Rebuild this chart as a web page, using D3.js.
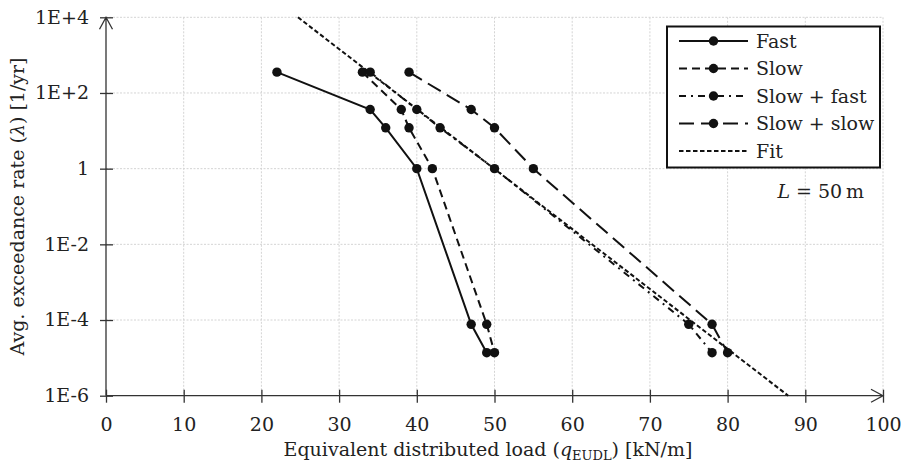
<!DOCTYPE html>
<html>
<head>
    <meta charset="utf-8">
    <title>exceedance rate vs equivalent load</title>
    <script src="https://d3js.org/d3.v7.min.js"></script>
</head>
<style>
    body {
        margin: 0;
        background: #fff;
    }
    
    svg text {
        font-family: "DejaVu Serif", serif;
        fill: #222;
    }
</style>
<body>
    <svg class='chart'></svg>
</body>

<script>
    // data (load in kN/m, rate in 1/yr)
    var rates = [355, 36.5, 12, 1, 7.7e-5, 1.37e-5];
    var qFast = [22, 34, 36, 40, 47, 49];
    var qSlow = [33, 38, 39, 42, 49, 50];
    var qSlowFast = [34, 40, 43, 50, 75, 78];
    var qSlowSlow = [39, 47, 50, 55, 78, 80];

    var fitQ = [24.7, 87.8];
    var fitRates = [1e4, 1e-6];

    var seriesNames = ["Fast", "Slow", "Slow + fast", "Slow + slow", "Fit"];
    var xTicks = [0, 10, 20, 30, 40, 50, 60, 70, 80, 90, 100];
    var yTicks = [1e4, 1e2, 1, 1e-2, 1e-4, 1e-6];
    var yTickLabels = ["1E+4", "1E+2", "1", "1E-2", "1E-4", "1E-6"];

    var dashes = ["none", "8,5", "7,5,2,5", "15,7", "4.5,2.5"];
    var fs = 19;

    //set up chart
    var margin = {
        top: 17.3,
        right: 24,
        bottom: 73.3,
        left: 106
    };
    var width = 777;
    var height = 378.4;

    var svg = d3.select(".chart")
        .attr("width", 907)
        .attr("height", 469);

    var chart = svg.append("g")
        .attr("transform", "translate(" + margin.left + "," + margin.top + ")");

    var x = d3.scaleLinear().domain([0, 100]).range([0, width]);
    var y = d3.scaleLog().domain([1e-6, 1e4]).range([height, 0]);

    // grid
    chart.append("g").selectAll("line")
        .data(xTicks.slice(1))
        .enter().append("line")
        .attr("x1", d => x(d)).attr("x2", d => x(d))
        .attr("y1", 0).attr("y2", height)
        .attr("stroke", "#d4d4d4").attr("stroke-dasharray", "2,1.5");
    chart.append("g").selectAll("line")
        .data(yTicks.slice(0, -1))
        .enter().append("line")
        .attr("x1", 0).attr("x2", width)
        .attr("y1", d => y(d)).attr("y2", d => y(d))
        .attr("stroke", "#d4d4d4").attr("stroke-dasharray", "2,1.5");

    //left axis
    var yAxis = d3.axisLeft(y).tickValues(yTicks)
        .tickFormat((d, i) => yTickLabels[i])
        .tickSize(6).tickPadding(11);
    var gy = chart.append("g").call(yAxis);
    //bottom axis
    var xAxis = d3.axisBottom(x).tickValues(xTicks).tickSize(6);
    var gx = chart.append("g")
        .attr("transform", "translate(0," + height + ")")
        .call(xAxis);

    [gx, gy].forEach(function(g) {
        g.select(".domain").remove();
        g.selectAll("text").attr("font-size", fs).attr("font-family", null).attr("fill", "#222");
        g.selectAll(".tick line").attr("stroke", "#333").attr("stroke-width", 1.3);
    });
    gy.selectAll(".tick line").attr("x1", -6).attr("x2", 7);
    gy.selectAll("text").attr("dy", "0.3em");
    gx.selectAll(".tick line").attr("y1", -6).attr("y2", 7);
    gx.selectAll("text").attr("y", 29).attr("dy", "0.35em");

    // axis lines with open arrow heads
    chart.append("path")
        .attr("d", "M0," + height + "V0M-6.5,12L0,0L6.5,12")
        .attr("fill", "none").attr("stroke", "#333").attr("stroke-width", 1.3);
    chart.append("path")
        .attr("d", "M0," + height + "H" + width + "M" + (width - 12) + "," + (height - 6.5) + "L" + width + "," + height + "L" + (width - 12) + "," + (height + 6.5))
        .attr("fill", "none").attr("stroke", "#333").attr("stroke-width", 1.3);

    // series
    var allQ = [qFast, qSlow, qSlowFast, qSlowSlow];
    var line = d3.line().x(d => x(d[0])).y(d => y(d[1]));

    chart.append("path")
        .datum(fitQ.map((q, i) => [q, fitRates[i]]))
        .attr("d", line)
        .attr("fill", "none").attr("stroke", "#111").attr("stroke-width", 2)
        .attr("stroke-dasharray", dashes[4]);

    allQ.forEach(function(qs, s) {
        var pts = qs.map((q, i) => [q, rates[i]]);
        chart.append("path")
            .datum(pts)
            .attr("d", line)
            .attr("fill", "none").attr("stroke", "#111").attr("stroke-width", 2)
            .attr("stroke-dasharray", dashes[s]);
        chart.append("g").selectAll("circle")
            .data(pts)
            .enter().append("circle")
            .attr("cx", d => x(d[0]))
            .attr("cy", d => y(d[1]))
            .attr("r", 4.7)
            .attr("fill", "#111");
    });

    // legend
    var legend = svg.append("g").attr("transform", "translate(667,26.5)");
    legend.append("rect")
        .attr("width", 213).attr("height", 141)
        .attr("fill", "#fff").attr("stroke", "#111").attr("stroke-width", 2);
    seriesNames.forEach(function(name, i) {
        var ly = 14.5 + i * 27.5;
        var row = legend.append("g").attr("transform", "translate(0," + ly + ")");
        row.append("line")
            .attr("x1", 12).attr("x2", 81)
            .attr("stroke", "#111").attr("stroke-width", 2)
            .attr("stroke-dasharray", dashes[i]);
        if (i < 4) {
            row.append("circle").attr("cx", 46.5).attr("r", 4.7).attr("fill", "#111");
        }
        row.append("text").attr("x", 89).attr("dy", "0.35em")
            .attr("font-size", fs).text(name);
    });

    var lab = svg.append("text")
        .attr("x", 864).attr("y", 198)
        .attr("text-anchor", "end").attr("font-size", fs);
    lab.append("tspan").attr("font-style", "italic").text("L");
    lab.append("tspan").text(" = 50\u2009m");

    // axis titles
    var xt = svg.append("text")
        .attr("x", 488).attr("y", 456)
        .attr("text-anchor", "middle").attr("font-size", fs);
    xt.append("tspan").text("Equivalent distributed load (");
    xt.append("tspan").attr("font-style", "italic").text("q");
    xt.append("tspan").attr("font-size", 13).attr("dy", 4).text("EUDL");
    xt.append("tspan").attr("dy", -4).text(") [kN/m]");

    var yt = svg.append("text")
        .attr("transform", "translate(24," + (margin.top + height / 2) + ") rotate(-90)")
        .attr("text-anchor", "middle").attr("font-size", fs);
    yt.append("tspan").text("Avg. exceedance rate (");
    yt.append("tspan").attr("font-style", "italic").text("\u03bb");
    yt.append("tspan").text(") [1/yr]");
</script>
</html>
